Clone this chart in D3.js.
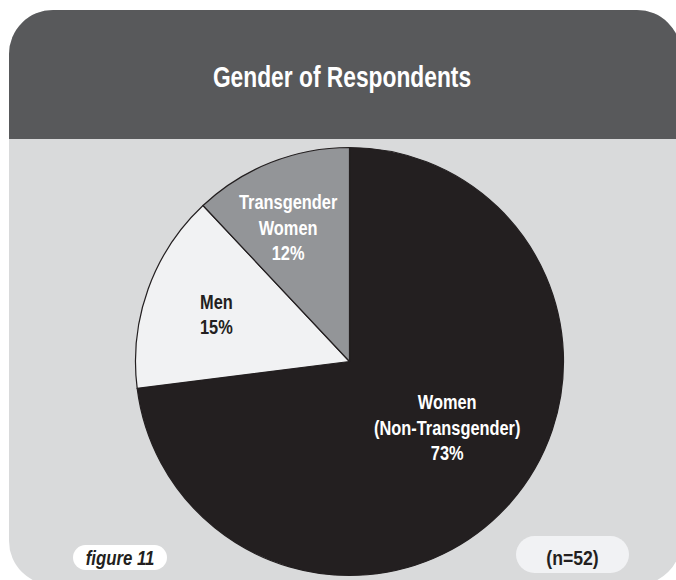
<!DOCTYPE html>
<html>
<head>
<meta charset="utf-8">
<script src="https://cdn.jsdelivr.net/npm/d3@7"></script>
<style>
  html, body { margin: 0; padding: 0; background: #ffffff; }
  svg { display: block; }
  text { font-family: "Liberation Sans", Arial, sans-serif; }
</style>
</head>
<body>
<svg id="chart" width="676" height="580"></svg>
<script>
// ---- data ----
const categories = ["Women (Non-Transgender)", "Men", "Transgender Women"];
const labelLines = [["Women", "(Non-Transgender)"], ["Men"], ["Transgender", "Women"]];
const percents = [73, 15, 12];
const title = "Gender of Respondents";
const figureLabel = "figure 11";
const sampleLabel = "(n=52)";

// ---- layout / style ----
const colors = ["#231f20", "#f1f2f3", "#939598"];
const labelColors = ["#ffffff", "#231f20", "#ffffff"];
const cx = 349.5, cy = 361.5, R = 214;
const labelPlace = { // radius and angular shift (deg) for the label block centre
  "Women (Non-Transgender)": { r: 122, shift: -4.6 },
  "Men": { r: 139, shift: -3.1 },
  "Transgender Women": { r: 141, shift: -4.2 }
};

const svg = d3.select("#chart");

// condensed text helper: horizontal squeeze of a normal-width face
function condText(parent, x, y, lines, o) {
  const g = parent.append("g").attr("transform", `translate(${x},${y}) scale(${o.k},1)`);
  const t = g.append("text")
    .attr("text-anchor", "middle")
    .attr("fill", o.fill)
    .attr("font-size", o.size)
    .attr("font-weight", o.weight || "bold")
    .attr("font-style", o.style || "normal");
  lines.forEach((ln, i) => t.append("tspan").attr("x", 0).attr("y", i * (o.lh || 0)).text(ln));
  return g;
}

// panel with rounded corners
const px = 9, py = 10, pw = 672, ph = 575, pr = 44, headerH = 129;
svg.append("defs").append("clipPath").attr("id", "panelClip")
  .append("rect").attr("x", px).attr("y", py).attr("width", pw).attr("height", ph).attr("rx", pr).attr("ry", pr);
const panel = svg.append("g").attr("clip-path", "url(#panelClip)");
panel.append("rect").attr("x", px).attr("y", py).attr("width", pw).attr("height", ph).attr("fill", "#d9dadb");
panel.append("rect").attr("x", px).attr("y", py).attr("width", pw).attr("height", headerH).attr("fill", "#58595b");

condText(svg, 342, 87, [title], { k: 0.76, fill: "#ffffff", size: 30 });

// pie
const data = categories.map((c, i) => ({ cat: c, value: percents[i], i }));
const pie = d3.pie().sort(null).value(d => d.value).startAngle(0).endAngle(2 * Math.PI);
const arcs = pie(data);
const arc = d3.arc().innerRadius(0).outerRadius(R);

const g = svg.append("g").attr("transform", `translate(${cx},${cy})`);
g.selectAll("path.slice")
  .data(arcs)
  .join("path")
  .attr("class", "slice")
  .attr("d", arc)
  .attr("fill", d => colors[d.data.i])
  .attr("stroke", "#231f20")
  .attr("stroke-width", 1.2)
  .attr("stroke-linejoin", "round");

const lineH = 25.5;
arcs.forEach(a => {
  const p = labelPlace[a.data.cat];
  const ang = (a.startAngle + a.endAngle) / 2 + p.shift * Math.PI / 180;
  const x = p.r * Math.sin(ang), y = -p.r * Math.cos(ang);
  const lines = labelLines[a.data.i].concat([a.data.value + "%"]);
  const firstBase = y - (lines.length - 1) / 2 * lineH;
  condText(g, x, firstBase, lines, { k: 0.78, fill: labelColors[a.data.i], size: 21, lh: lineH });
});

// footer pills
svg.append("rect").attr("x", 73).attr("y", 545).attr("width", 94).attr("height", 25)
  .attr("rx", 12.5).attr("fill", "#ffffff");
condText(svg, 120, 565, [figureLabel], { k: 0.84, fill: "#231f20", size: 20, style: "italic" });

svg.append("rect").attr("x", 516).attr("y", 536).attr("width", 113).attr("height", 37)
  .attr("rx", 18.5).attr("fill", "#f1f2f4");
condText(svg, 572.5, 565, [sampleLabel], { k: 0.86, fill: "#231f20", size: 20.5 });
</script>
</body>
</html>
